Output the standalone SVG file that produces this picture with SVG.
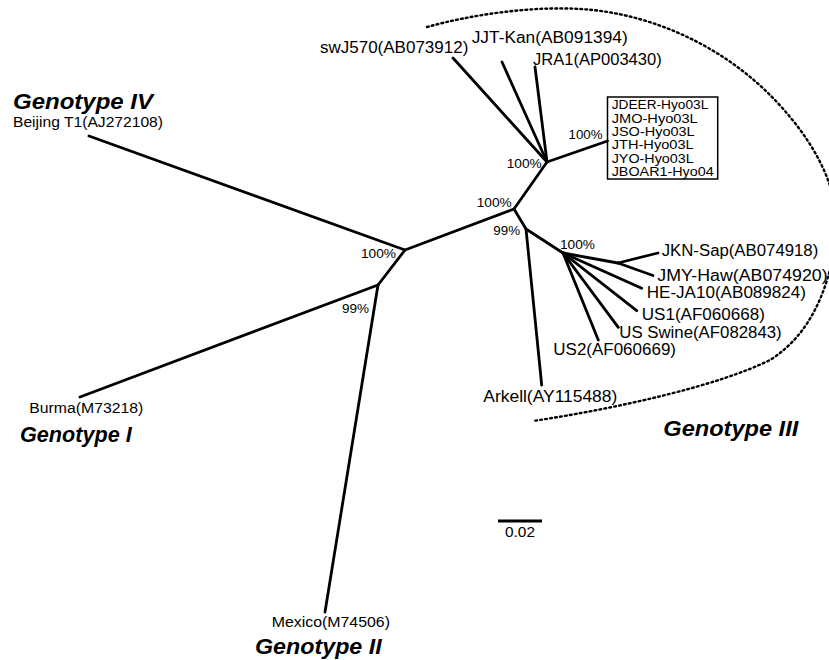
<svg xmlns="http://www.w3.org/2000/svg" width="829" height="660" viewBox="0 0 829 660">
<style>
text{font-family:"Liberation Sans",Arial,sans-serif;fill:#000}
.leaf{font-size:16px}
.small{font-size:15.5px}
.pct{font-size:13.7px}
.box{font-size:13.7px}
.geno{font-size:22px;font-weight:bold;font-style:italic}
.br{stroke:#000;stroke-width:2.8;fill:none;stroke-linecap:round;stroke-linejoin:round}
.dots{stroke:#000;stroke-width:2.4;fill:none;stroke-dasharray:1.8 3.2;stroke-linecap:round}
</style>
<rect width="829" height="660" fill="#fff"/>
<g id="connectors">
<path class="br" d="M405,250 L89,136"/>
<path class="br" d="M405,250 L378,285"/>
<path class="br" d="M378,285 L80,397"/>
<path class="br" d="M378,285 L325,612"/>
<path class="br" d="M405,250 L514,209"/>
<path class="br" d="M514,209 L547,162"/>
<path class="br" d="M547,162 L453,58"/>
<path class="br" d="M547,162 L502,62"/>
<path class="br" d="M547,162 L535,67"/>
<path class="br" d="M547,162 L607.5,141"/>
<path class="br" d="M514,209 L526,229"/>
<path class="br" d="M526,229 L541.7,385"/>
<path class="br" d="M526,229 L563,253"/>
<path class="br" d="M563,253 L618,263"/>
<path class="br" d="M618,263 L658,253"/>
<path class="br" d="M618,263 L653,275.5"/>
<path class="br" d="M563,253 L641.7,288.3"/>
<path class="br" d="M563,253 L636.7,310.7"/>
<path class="br" d="M563,253 L618.3,327.3"/>
<path class="br" d="M563,253 L598.3,340"/>
</g>
<g id="genotype-iii-outline">
<path class="dots" d="M427,27 C470,15 530,6 580,9 C650,13 720,45 770,95 C810,135 845,190 835,245 C828,290 810,335 770,360 C720,385 620,408 533,421"/>
</g>
<g id="support-values">
<text class="pct" x="506.7" y="167.7" textLength="35" lengthAdjust="spacingAndGlyphs">100%</text>
<text class="pct" x="568.5" y="139" textLength="34" lengthAdjust="spacingAndGlyphs">100%</text>
<text class="pct" x="476.7" y="207.3" textLength="35" lengthAdjust="spacingAndGlyphs">100%</text>
<text class="pct" x="493.3" y="235" textLength="26.7" lengthAdjust="spacingAndGlyphs">99%</text>
<text class="pct" x="560" y="249" textLength="35" lengthAdjust="spacingAndGlyphs">100%</text>
<text class="pct" x="361" y="258" textLength="35" lengthAdjust="spacingAndGlyphs">100%</text>
<text class="pct" x="342" y="313" textLength="27" lengthAdjust="spacingAndGlyphs">99%</text>
</g>
<g id="node-genotype-iv">
<text class="geno" x="13" y="109" textLength="140" lengthAdjust="spacingAndGlyphs">Genotype IV</text>
<text class="small" x="13" y="127" textLength="150" lengthAdjust="spacingAndGlyphs">Beijing T1(AJ272108)</text>
</g>
<g id="node-genotype-i">
<text class="small" x="29.3" y="413.3" textLength="114" lengthAdjust="spacingAndGlyphs">Burma(M73218)</text>
<text class="geno" x="20" y="442.4" textLength="111.7" lengthAdjust="spacingAndGlyphs">Genotype I</text>
</g>
<g id="node-genotype-ii">
<text class="small" x="271.7" y="626.7" textLength="118.3" lengthAdjust="spacingAndGlyphs">Mexico(M74506)</text>
<text class="geno" x="255" y="654" textLength="126.7" lengthAdjust="spacingAndGlyphs">Genotype II</text>
</g>
<g id="node-genotype-iii">
<text class="geno" x="663.3" y="436" textLength="135" lengthAdjust="spacingAndGlyphs">Genotype III</text>
</g>
<g id="node-swJ570"><text class="leaf" x="320" y="53.3" textLength="148.3" lengthAdjust="spacingAndGlyphs">swJ570(AB073912)</text></g>
<g id="node-JJT-Kan"><text class="leaf" x="471.7" y="43" textLength="156" lengthAdjust="spacingAndGlyphs">JJT-Kan(AB091394)</text></g>
<g id="node-JRA1"><text class="leaf" x="533" y="65" textLength="128.7" lengthAdjust="spacingAndGlyphs">JRA1(AP003430)</text></g>
<g id="node-hyo-box">
<rect x="607.5" y="97" width="110.2" height="82" fill="none" stroke="#000" stroke-width="1.5"/>
<text class="box" x="611.7" y="109.2" textLength="96.6" lengthAdjust="spacingAndGlyphs">JDEER-Hyo03L</text>
<text class="box" x="611.7" y="122.6" textLength="86" lengthAdjust="spacingAndGlyphs">JMO-Hyo03L</text>
<text class="box" x="611.7" y="136" textLength="83" lengthAdjust="spacingAndGlyphs">JSO-Hyo03L</text>
<text class="box" x="611.7" y="149.4" textLength="82" lengthAdjust="spacingAndGlyphs">JTH-Hyo03L</text>
<text class="box" x="611.7" y="162.8" textLength="82" lengthAdjust="spacingAndGlyphs">JYO-Hyo03L</text>
<text class="box" x="611.7" y="176.2" textLength="102" lengthAdjust="spacingAndGlyphs">JBOAR1-Hyo04</text>
</g>
<g id="node-JKN-Sap"><text class="leaf" x="661.7" y="256" textLength="156.6" lengthAdjust="spacingAndGlyphs">JKN-Sap(AB074918)</text></g>
<g id="node-JMY-Haw"><text class="leaf" x="657.3" y="280.5" textLength="170.4" lengthAdjust="spacingAndGlyphs">JMY-Haw(AB074920)</text></g>
<g id="node-HE-JA10"><text class="leaf" x="646.7" y="297.7" textLength="159.3" lengthAdjust="spacingAndGlyphs">HE-JA10(AB089824)</text></g>
<g id="node-US1"><text class="leaf" x="641.7" y="320" textLength="123.3" lengthAdjust="spacingAndGlyphs">US1(AF060668)</text></g>
<g id="node-US-Swine"><text class="leaf" x="619.3" y="338.3" textLength="162.4" lengthAdjust="spacingAndGlyphs">US Swine(AF082843)</text></g>
<g id="node-US2"><text class="leaf" x="553.3" y="355" textLength="122.7" lengthAdjust="spacingAndGlyphs">US2(AF060669)</text></g>
<g id="node-Arkell"><text class="leaf" x="483.3" y="401.7" textLength="134" lengthAdjust="spacingAndGlyphs">Arkell(AY115488)</text></g>
<g id="scale-bar">
<line x1="498" y1="521" x2="542" y2="521" stroke="#000" stroke-width="3"/>
<text x="505" y="537.3" style="font-size:14px" textLength="30" lengthAdjust="spacingAndGlyphs">0.02</text>
</g>
</svg>
